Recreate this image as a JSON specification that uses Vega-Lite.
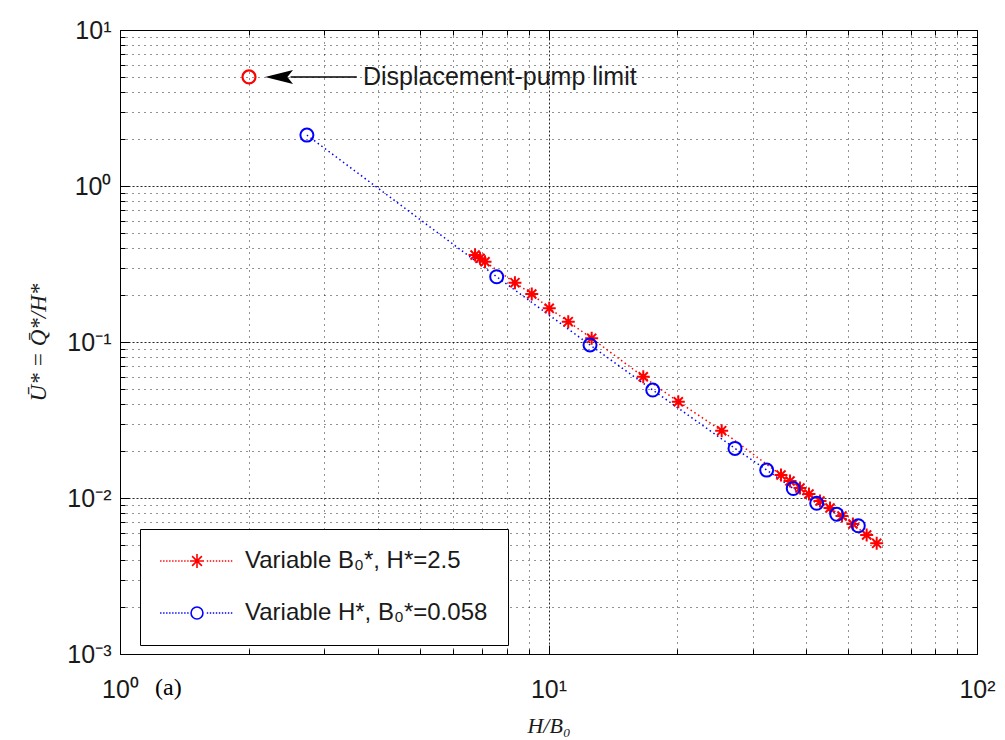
{
  "$schema": "https://vega.github.io/schema/vega-lite/v6.json",
  "width": 857,
  "height": 624,
  "autosize": {"type": "none"},
  "padding": {"left": 120, "top": 30, "right": 28, "bottom": 86},
  "background": "white",
  "config": {"view": {"stroke": "black", "strokeWidth": 1}, "font": "Liberation Sans"},
  "datasets": {
    "main": [
      {"series": "Variable B₀*, H*=2.5", "x": 6.74, "y": 0.361},
      {"series": "Variable B₀*, H*=2.5", "x": 6.92, "y": 0.344},
      {"series": "Variable B₀*, H*=2.5", "x": 7.11, "y": 0.327},
      {"series": "Variable B₀*, H*=2.5", "x": 8.35, "y": 0.240},
      {"series": "Variable B₀*, H*=2.5", "x": 9.14, "y": 0.203},
      {"series": "Variable B₀*, H*=2.5", "x": 10.04, "y": 0.1644},
      {"series": "Variable B₀*, H*=2.5", "x": 11.12, "y": 0.135},
      {"series": "Variable B₀*, H*=2.5", "x": 12.61, "y": 0.1056},
      {"series": "Variable B₀*, H*=2.5", "x": 16.64, "y": 0.0599},
      {"series": "Variable B₀*, H*=2.5", "x": 20.09, "y": 0.0414},
      {"series": "Variable B₀*, H*=2.5", "x": 25.36, "y": 0.0270},
      {"series": "Variable B₀*, H*=2.5", "x": 34.88, "y": 0.01404},
      {"series": "Variable B₀*, H*=2.5", "x": 36.61, "y": 0.01285},
      {"series": "Variable B₀*, H*=2.5", "x": 38.63, "y": 0.01159},
      {"series": "Variable B₀*, H*=2.5", "x": 40.54, "y": 0.01061},
      {"series": "Variable B₀*, H*=2.5", "x": 43.01, "y": 0.00957},
      {"series": "Variable B₀*, H*=2.5", "x": 45.39, "y": 0.00863},
      {"series": "Variable B₀*, H*=2.5", "x": 48.41, "y": 0.00766},
      {"series": "Variable B₀*, H*=2.5", "x": 51.34, "y": 0.00681},
      {"series": "Variable B₀*, H*=2.5", "x": 55.27, "y": 0.00579},
      {"series": "Variable B₀*, H*=2.5", "x": 58.33, "y": 0.00512},
      {"series": "Variable H*, B₀*=0.058", "x": 2.73, "y": 2.12},
      {"series": "Variable H*, B₀*=0.058", "x": 7.57, "y": 0.262},
      {"series": "Variable H*, B₀*=0.058", "x": 12.5, "y": 0.0957},
      {"series": "Variable H*, B₀*=0.058", "x": 17.51, "y": 0.0492},
      {"series": "Variable H*, B₀*=0.058", "x": 27.24, "y": 0.0208},
      {"series": "Variable H*, B₀*=0.058", "x": 32.3, "y": 0.0151},
      {"series": "Variable H*, B₀*=0.058", "x": 37.26, "y": 0.0115},
      {"series": "Variable H*, B₀*=0.058", "x": 42.26, "y": 0.00925},
      {"series": "Variable H*, B₀*=0.058", "x": 47.06, "y": 0.00786},
      {"series": "Variable H*, B₀*=0.058", "x": 52.84, "y": 0.00664}
    ],
    "limit": [{"x": 2, "y": 5}],
    "arrow": [{"x": 2.5, "x2": 3.57, "y": 5, "hx": 2.35}],
    "labels": [
      {"x": 3.69, "y": 5, "text": "Displacement-pump limit"}
    ],
    "panel": [
      {"x": 1.207, "y": 0.000605, "text": "(a)"}
    ]
  },
  "layer": [
    {
      "data": {"name": "main"},
      "mark": {"type": "line", "strokeDash": [1.5, 3], "strokeWidth": 1.5},
      "encoding": {
        "x": {
          "field": "x", "type": "quantitative",
          "scale": {"type": "log", "domain": [1, 100]},
          "title": "H/B₀",
          "axis": {
            "orient": "bottom",
            "values": [1, 2, 3, 4, 5, 6, 7, 8, 9, 10, 20, 30, 40, 50, 60, 70, 80, 90, 100],
            "labelExpr": "datum.value == 1 ? '10⁰' : datum.value == 10 ? '10¹' : datum.value == 100 ? '10²' : ''",
            "labelFont": "Liberation Sans", "labelFontSize": 25, "labelColor": "#1a1a1a",
            "labelPadding": 32, "labelFlush": false, "labelOverlap": false,
            "domain": false,
            "grid": true, "gridColor": "black", "gridOpacity": 0.85, "gridWidth": 1,
            "gridDash": {"condition": {"test": "datum.value == 1 || datum.value == 10 || datum.value == 100", "value": [2, 2]}, "value": [1, 5]},
            "tickColor": "black",
            "tickSize": {"condition": {"test": "datum.value == 1 || datum.value == 10 || datum.value == 100", "value": -9}, "value": -5},
            "titleFont": "Liberation Serif", "titleFontStyle": "italic", "titleFontSize": 22, "titleFontWeight": "normal",
            "titlePadding": 9, "titleColor": "#1a1a1a"
          }
        },
        "y": {
          "field": "y", "type": "quantitative",
          "scale": {"type": "log", "domain": [0.001, 10]},
          "title": "Ū* = Q̄*/H*",
          "axis": {
            "orient": "left",
            "values": [0.001, 0.002, 0.003, 0.004, 0.005, 0.006, 0.007, 0.008, 0.009, 0.01, 0.02, 0.03, 0.04, 0.05, 0.06, 0.07, 0.08, 0.09, 0.1, 0.2, 0.3, 0.4, 0.5, 0.6, 0.7, 0.8, 0.9, 1, 2, 3, 4, 5, 6, 7, 8, 9, 10],
            "labelExpr": "datum.value == 0.001 ? '10⁻³' : datum.value == 0.01 ? '10⁻²' : datum.value == 0.1 ? '10⁻¹' : datum.value == 1 ? '10⁰' : datum.value == 10 ? '10¹' : ''",
            "labelFont": "Liberation Sans", "labelFontSize": 25, "labelColor": "#1a1a1a",
            "labelPadding": 18, "labelFlush": false, "labelOverlap": false,
            "domain": false,
            "grid": true, "gridColor": "black", "gridOpacity": 0.85, "gridWidth": 1,
            "gridDash": {"condition": {"test": "datum.value == 0.001 || datum.value == 0.01 || datum.value == 0.1 || datum.value == 1 || datum.value == 10", "value": [2, 2]}, "value": [1, 5]},
            "tickColor": "black",
            "tickSize": {"condition": {"test": "datum.value == 0.001 || datum.value == 0.01 || datum.value == 0.1 || datum.value == 1 || datum.value == 10", "value": -9}, "value": -5},
            "titleFont": "Liberation Serif", "titleFontStyle": "italic", "titleFontSize": 23, "titleFontWeight": "normal",
            "titlePadding": 16, "titleColor": "#1a1a1a"
          }
        },
        "detail": {"field": "series", "type": "nominal"},
        "stroke": {"condition": {"test": "datum.series == 'Variable B₀*, H*=2.5'", "value": "#ff0000"}, "value": "#0000ff"}
      }
    },
    {
      "data": {"name": "main"},
      "transform": [{"filter": "datum.series == 'Variable B₀*, H*=2.5'"}],
      "mark": {"type": "point", "shape": "M-1,0H1M0,-1V1M-0.7,-0.7L0.7,0.7M-0.7,0.7L0.7,-0.7", "filled": false, "strokeWidth": 2, "size": 169, "opacity": 1, "color": "#ff0000"},
      "encoding": {
        "x": {
          "field": "x", "type": "quantitative",
          "axis": {
            "orient": "top", "labels": false, "grid": false, "domain": false, "title": null,
            "values": [1, 2, 3, 4, 5, 6, 7, 8, 9, 10, 20, 30, 40, 50, 60, 70, 80, 90, 100],
            "tickColor": "black",
            "tickSize": {"condition": {"test": "datum.value == 1 || datum.value == 10 || datum.value == 100", "value": -9}, "value": -5}
          }
        },
        "y": {
          "field": "y", "type": "quantitative",
          "axis": {
            "orient": "right", "labels": false, "grid": false, "domain": false, "title": null,
            "values": [0.001, 0.002, 0.003, 0.004, 0.005, 0.006, 0.007, 0.008, 0.009, 0.01, 0.02, 0.03, 0.04, 0.05, 0.06, 0.07, 0.08, 0.09, 0.1, 0.2, 0.3, 0.4, 0.5, 0.6, 0.7, 0.8, 0.9, 1, 2, 3, 4, 5, 6, 7, 8, 9, 10],
            "tickColor": "black",
            "tickSize": {"condition": {"test": "datum.value == 0.001 || datum.value == 0.01 || datum.value == 0.1 || datum.value == 1 || datum.value == 10", "value": -9}, "value": -5}
          }
        }
      }
    },
    {
      "data": {"name": "main"},
      "transform": [{"filter": "datum.series == 'Variable H*, B₀*=0.058'"}],
      "mark": {"type": "point", "shape": "circle", "filled": false, "strokeWidth": 2, "size": 169, "opacity": 1, "color": "#0000ff"},
      "encoding": {
        "x": {"field": "x", "type": "quantitative", "axis": null},
        "y": {"field": "y", "type": "quantitative", "axis": null}
      }
    },
    {
      "data": {"name": "main"},
      "mark": {"type": "point", "filled": false, "strokeWidth": 2, "size": 169, "opacity": 0},
      "encoding": {
        "x": {"field": "x", "type": "quantitative", "axis": null},
        "y": {"field": "y", "type": "quantitative", "axis": null},
        "color": {
          "field": "series", "type": "nominal",
          "scale": {"domain": ["Variable B₀*, H*=2.5", "Variable H*, B₀*=0.058"], "range": ["#ff0000", "#0000ff"]},
          "legend": {
            "title": null,
            "orient": "none", "legendX": 20, "legendY": 499,
            "padding": 20,
            "strokeColor": "black", "fillColor": "white",
            "labelFont": "Liberation Sans", "labelFontSize": 24, "labelColor": "#1a1a1a",
            "labelOffset": 36, "labelLimit": 400,
            "symbolSize": 196, "symbolStrokeWidth": 1.6, "symbolOffset": 25, "symbolOpacity": 1,
            "symbolFillColor": "transparent",
            "rowPadding": 28
          }
        },
        "shape": {
          "field": "series", "type": "nominal",
          "scale": {
            "domain": ["Variable B₀*, H*=2.5", "Variable H*, B₀*=0.058"],
            "range": [
              "M-5.27,0h0.2M-4.84,0h0.2M-4.41,0h0.2M-3.98,0h0.2M-3.55,0h0.2M-3.12,0h0.2M-2.69,0h0.2M-2.26,0h0.2M-1.83,0h0.2M-1.4,0h0.2M1.4,0h0.2M1.83,0h0.2M2.26,0h0.2M2.69,0h0.2M3.12,0h0.2M3.55,0h0.2M3.98,0h0.2M4.41,0h0.2M4.84,0h0.2M-1,0H1M0,-1V1M-0.7,-0.7L0.7,0.7M-0.7,0.7L0.7,-0.7",
              "M-5.27,0h0.2M-4.84,0h0.2M-4.41,0h0.2M-3.98,0h0.2M-3.55,0h0.2M-3.12,0h0.2M-2.69,0h0.2M-2.26,0h0.2M-1.83,0h0.2M-1.4,0h0.2M1.4,0h0.2M1.83,0h0.2M2.26,0h0.2M2.69,0h0.2M3.12,0h0.2M3.55,0h0.2M3.98,0h0.2M4.41,0h0.2M4.84,0h0.2M0.85,0A0.85,0.85,0,1,1,-0.85,0A0.85,0.85,0,1,1,0.85,0"
            ]
          }
        }
      }
    },
    {
      "data": {"name": "limit"},
      "mark": {"type": "point", "shape": "circle", "filled": false, "strokeWidth": 2.2, "size": 169, "color": "#ff0000", "opacity": 1},
      "encoding": {
        "x": {"field": "x", "type": "quantitative", "axis": null},
        "y": {"field": "y", "type": "quantitative", "axis": null}
      }
    },
    {
      "data": {"name": "arrow"},
      "mark": {"type": "rule", "color": "black", "strokeWidth": 1.5},
      "encoding": {
        "x": {"field": "x", "type": "quantitative", "axis": null},
        "x2": {"field": "x2"},
        "y": {"field": "y", "type": "quantitative", "axis": null}
      }
    },
    {
      "data": {"name": "arrow"},
      "mark": {"type": "point", "shape": "M-1,0L1,-0.5L0.6,0L1,0.5Z", "filled": true, "color": "black", "opacity": 1, "size": 784},
      "encoding": {
        "x": {"field": "hx", "type": "quantitative", "axis": null},
        "y": {"field": "y", "type": "quantitative", "axis": null}
      }
    },
    {
      "data": {"name": "labels"},
      "mark": {"type": "text", "align": "left", "baseline": "middle", "font": "Liberation Sans", "fontSize": 25, "color": "#1a1a1a"},
      "encoding": {
        "x": {"field": "x", "type": "quantitative", "axis": null},
        "y": {"field": "y", "type": "quantitative", "axis": null},
        "text": {"field": "text"}
      }
    },
    {
      "data": {"name": "panel"},
      "mark": {"type": "text", "align": "left", "baseline": "middle", "font": "Liberation Serif", "fontSize": 24, "color": "black"},
      "encoding": {
        "x": {"field": "x", "type": "quantitative", "axis": null},
        "y": {"field": "y", "type": "quantitative", "axis": null},
        "text": {"field": "text"}
      }
    }
  ],
  "resolve": {"axis": {"x": "independent", "y": "independent"}}
}
